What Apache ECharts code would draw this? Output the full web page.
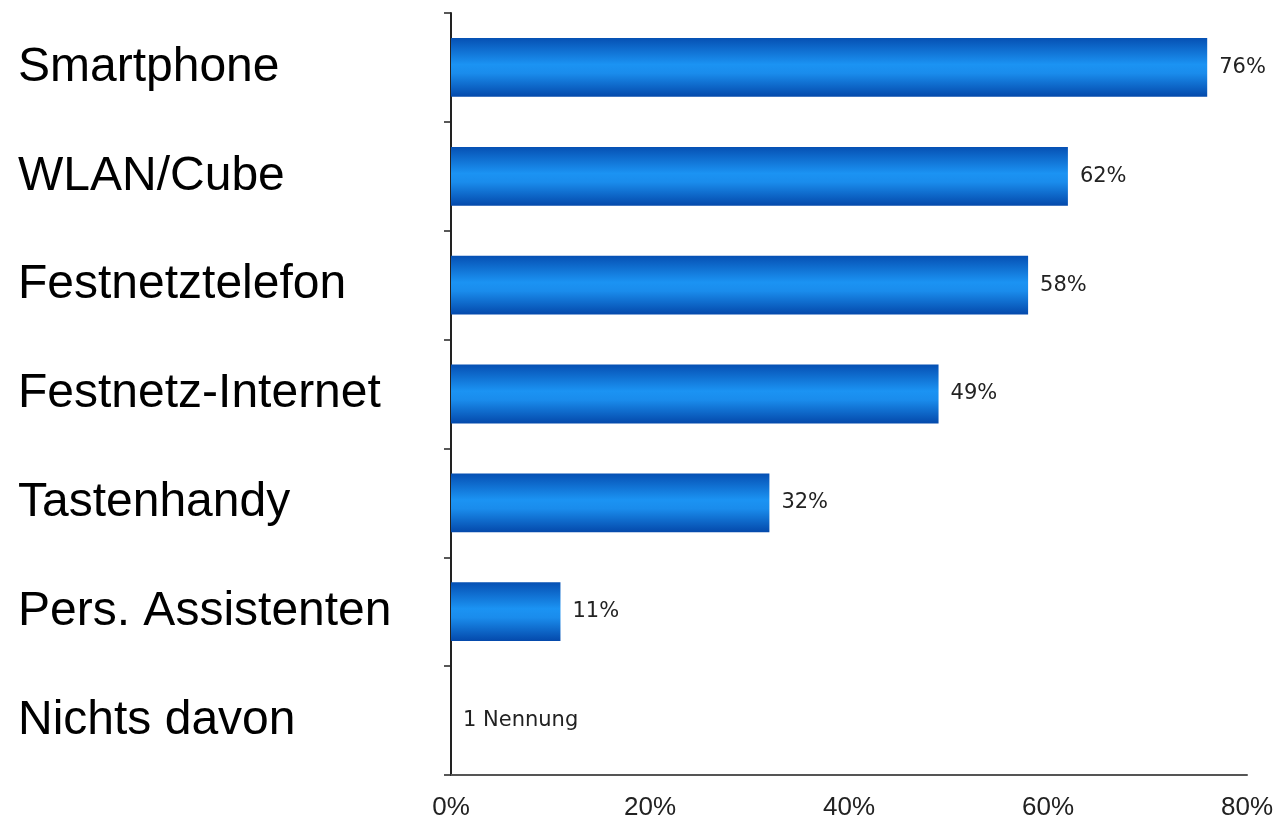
<!DOCTYPE html>
<html>
<head>
<meta charset="utf-8">
<script src="https://cdn.jsdelivr.net/npm/echarts@6/dist/echarts.min.js"></script>
<style>
  html, body { margin: 0; padding: 0; background: #fff; }
  #chart { width: 1278px; height: 821px; }
</style>
</head>
<body>
<div id="chart"></div>
<script>
// categories top to bottom
const categories = ['Smartphone', 'WLAN/Cube', 'Festnetztelefon', 'Festnetz-Internet', 'Tastenhandy', 'Pers. Assistenten', 'Nichts davon'];
const values = [76, 62, 58, 49, 32, 11, 0];
const valueLabels = ['76%', '62%', '58%', '49%', '32%', '11%', '1 Nennung'];
const xTicks = [0, 20, 40, 60, 80];

const chart = echarts.init(document.getElementById('chart'));

// vertical gradient, dark edges and a light middle
const barColor = new echarts.graphic.LinearGradient(0, 0, 0, 1, [
    { offset: 0, color: '#0650b3' },
    { offset: 0.45, color: '#1b93f3' },
    { offset: 0.6, color: '#1a8cec' },
    { offset: 1, color: '#0449ab' }
]);

const option = {
    animation: false,
    grid: {
        left: 451,
        right: 31,
        top: 13,
        bottom: 46
    },
    xAxis: {
        type: 'value',
        min: xTicks[0],
        max: xTicks[xTicks.length - 1],
        interval: xTicks[1] - xTicks[0],
        axisLine: { show: true, lineStyle: { color: '#555', width: 2 } },
        axisTick: { show: false },
        splitLine: { show: false },
        axisLabel: {
            formatter: '{value}%',
            fontFamily: 'Liberation Sans, Arial, sans-serif',
            fontSize: 26,
            color: '#222',
            margin: 20
        }
    },
    yAxis: {
        type: 'category',
        data: categories,
        inverse: true,
        axisLine: { show: true, lineStyle: { color: '#222', width: 2 } },
        axisTick: { show: true, length: 7, lineStyle: { color: '#222', width: 1.5 } },
        axisLabel: {
            align: 'left',
            margin: 433,
            fontFamily: 'Liberation Sans, Arial, sans-serif',
            fontSize: 48,
            color: '#000'
        }
    },
    series: [
        {
            type: 'bar',
            data: values,
            barCategoryGap: '46%',
            itemStyle: { color: barColor },
            label: {
                show: true,
                position: 'right',
                distance: 12,
                formatter: (p) => valueLabels[p.dataIndex],
                fontFamily: 'DejaVu Sans, Verdana, sans-serif',
                fontSize: 21,
                color: '#222'
            }
        }
    ]
};

chart.setOption(option);
</script>
</body>
</html>
